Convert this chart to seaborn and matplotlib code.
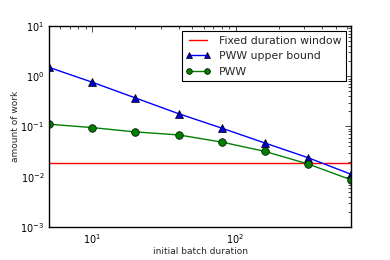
import matplotlib
matplotlib.use("Agg")
import matplotlib.pyplot as plt
import seaborn as sns
import pandas as pd

durations = [5, 10, 20, 40, 80, 160, 320, 640]
upper_bound = [1.5, 0.76, 0.37, 0.18, 0.093, 0.047, 0.024, 0.0112]
pww = [0.111, 0.095, 0.078, 0.068, 0.049, 0.032, 0.018, 0.0087]
fixed_window = 0.0185
labels = ['Fixed duration window', 'PWW upper bound', 'PWW']

sns.set_style("white")
plt.rcParams['font.family'] = ['DejaVu Sans']

fig = plt.figure(figsize=(3.9, 2.6), dpi=100)
ax = fig.add_axes([0.126, 0.127, 0.774, 0.773])

fixed = [fixed_window] * len(durations)
sns.lineplot(x=durations, y=fixed, ax=ax, color='red', linewidth=1.0, legend=False)
sns.lineplot(x=durations, y=upper_bound, ax=ax, color='blue', linewidth=1.0,
             marker='^', markersize=5.5, markerfacecolor='#0000cc', markeredgecolor='black',
             markeredgewidth=0.5, legend=False)
sns.lineplot(x=durations, y=pww, ax=ax, color='green', linewidth=1.0,
             marker='o', markersize=5.5, markerfacecolor='#008000', markeredgecolor='black',
             markeredgewidth=0.5, legend=False)

ax.set_xscale('log')
ax.set_yscale('log')
ax.set_xlim(5, 640)
ax.set_ylim(1e-3, 1e1)
ax.set_xlabel('initial batch duration', fontsize=6.5, labelpad=1)
ax.set_ylabel('amount of work', fontsize=6.5, labelpad=0)
ax.tick_params(axis='both', which='both', direction='in', top=True, right=True,
               labelsize=7, colors='black')
ax.tick_params(which='major', length=4, width=0.5)
ax.tick_params(which='minor', length=2, width=0.5)
for s in ax.spines.values():
    s.set_color('black')
    s.set_linewidth(1.0)

lines = ax.get_lines()[:3]
leg = ax.legend(handles=lines, labels=labels, loc='upper right', fontsize=7.8,
                frameon=True, fancybox=False, edgecolor='black', framealpha=1,
                numpoints=2, markerscale=0.75, handlelength=2.2,
                borderaxespad=0.5, labelspacing=0.5, borderpad=0.4, handletextpad=0.8)
leg.get_frame().set_linewidth(0.8)

fig.savefig('out.png', dpi=100)
